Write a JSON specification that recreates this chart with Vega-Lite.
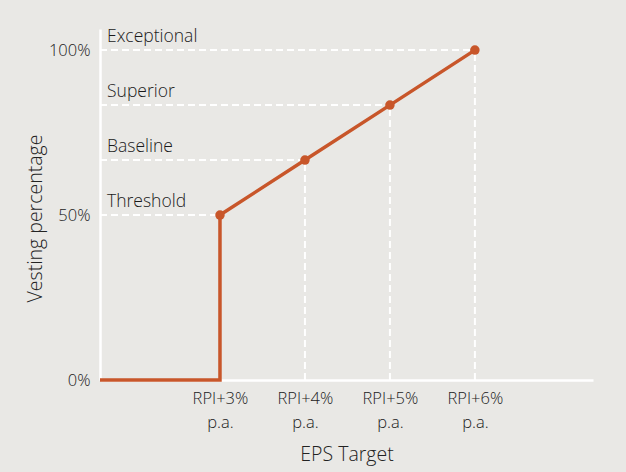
{
  "$schema": "https://vega.github.io/schema/vega-lite/v6.json",
  "width": 493,
  "height": 351,
  "padding": {"left": 100, "top": 29, "right": 33, "bottom": 92},
  "autosize": {"type": "none"},
  "background": "#e9e8e5",
  "config": {
    "view": {"stroke": null},
    "font": "Open Sans",
    "axis": {"labelFont": "Open Sans", "titleFont": "Open Sans", "labelColor": "#222222", "titleColor": "#222222", "titleFontWeight": 300, "labelFontWeight": 300}
  },
  "datasets": {
    "line": [
      {"x": 1.588, "y": 0, "o": 1},
      {"x": 3, "y": 0, "o": 2},
      {"x": 3, "y": 50, "o": 3},
      {"x": 4, "y": 66.67, "o": 4},
      {"x": 5, "y": 83.33, "o": 5},
      {"x": 6, "y": 100, "o": 6}
    ],
    "levels": [
      {"name": "Threshold", "x": 3, "y": 50, "x0": 1.588, "y0": 0},
      {"name": "Baseline", "x": 4, "y": 66.67, "x0": 1.588, "y0": 0},
      {"name": "Superior", "x": 5, "y": 83.33, "x0": 1.588, "y0": 0},
      {"name": "Exceptional", "x": 6, "y": 100, "x0": 1.588, "y0": 0}
    ]
  },
  "layer": [
    {
      "data": {"name": "levels"},
      "mark": {"type": "rule", "color": "white", "strokeWidth": 2, "strokeDash": [7, 4]},
      "encoding": {
        "x": {"field": "x0", "type": "quantitative", "scale": {"domain": [1.588, 7.39], "nice": false, "zero": false},
          "axis": {"values": [3, 4, 5, 6], "labelExpr": "['RPI+' + datum.value + '%', 'p.a.']", "labelLineHeight": 24, "labelFontSize": 16.5, "labelPadding": 10, "ticks": false, "grid": false, "domainColor": "white", "domainWidth": 2.5, "title": "EPS Target", "titleFontSize": 19.5, "titlePadding": 15, "labelFlush": false}},
        "x2": {"field": "x"},
        "y": {"field": "y", "type": "quantitative", "scale": {"domain": [0, 106.4], "nice": false, "zero": true},
          "axis": {"values": [0, 50, 100], "labelExpr": "datum.value + '%'", "labelFontSize": 16.5, "labelPadding": 10, "ticks": false, "grid": false, "domainColor": "white", "domainWidth": 2.5, "title": "Vesting percentage", "titleFontSize": 19.5, "titleX": -55, "titleY": 189}}
      }
    },
    {
      "data": {"name": "levels"},
      "mark": {"type": "rule", "color": "white", "strokeWidth": 2, "strokeDash": [7, 4]},
      "encoding": {
        "x": {"field": "x", "type": "quantitative"},
        "y": {"field": "y0", "type": "quantitative"},
        "y2": {"field": "y"}
      }
    },
    {
      "data": {"name": "line"},
      "mark": {"type": "line", "color": "#c8562a", "strokeWidth": 3.5},
      "encoding": {
        "x": {"field": "x", "type": "quantitative"},
        "y": {"field": "y", "type": "quantitative"},
        "order": {"field": "o"}
      }
    },
    {
      "data": {"name": "levels"},
      "mark": {"type": "point", "filled": true, "color": "#c8562a", "opacity": 1, "size": 90},
      "encoding": {
        "x": {"field": "x", "type": "quantitative"},
        "y": {"field": "y", "type": "quantitative"}
      }
    },
    {
      "data": {"name": "levels"},
      "mark": {"type": "text", "align": "left", "baseline": "alphabetic", "dx": 7, "dy": -8, "fontSize": 17.5, "fontWeight": 300, "color": "#1a1a1a", "font": "Open Sans"},
      "encoding": {
        "x": {"field": "x0", "type": "quantitative"},
        "y": {"field": "y", "type": "quantitative"},
        "text": {"field": "name"}
      }
    }
  ]
}
